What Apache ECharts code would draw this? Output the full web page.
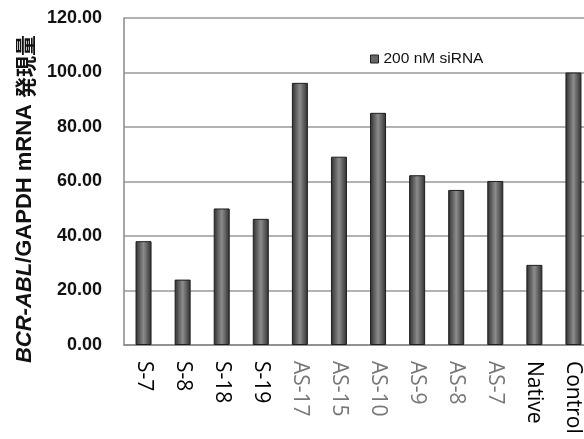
<!DOCTYPE html>
<html>
<head>
<meta charset="utf-8">
<script src="https://cdn.jsdelivr.net/npm/echarts@6/dist/echarts.min.js"></script>
<style>
html,body{margin:0;padding:0;overflow:hidden;background:#fff;}
#c{width:600px;height:439px;}
</style>
</head>
<body>
<div id="c"></div>
<script>
var categories = ['S-7','S-8','S-18','S-19','AS-17','AS-15','AS-10','AS-9','AS-8','AS-7','Native','Control'];
var values = [38.1, 24.0, 50.1, 46.3, 96.2, 69.1, 85.2, 62.3, 56.9, 60.2, 29.4, 100.0];
var labelColors = ['#000','#000','#000','#000','#777','#777','#777','#777','#777','#777','#000','#000'];
var seriesName = '200 nM siRNA';
var yTicks = {min: 0, max: 120, interval: 20};

var chart = echarts.init(document.getElementById('c'));
var barGrad = new echarts.graphic.LinearGradient(0,0,1,0,[
  {offset:0,color:'#2e2e2e'},{offset:0.5,color:'#8c8c8c'},{offset:1,color:'#2e2e2e'}
]);
chart.setOption({
  animation:false,
  grid:{left:124, top:18, bottom:94, right:7, containLabel:false},
  legend:{
    left:365, top:46, itemWidth:8, itemHeight:8, itemGap:5,
    icon:'rect',
    textStyle:{fontFamily:'Liberation Sans', fontSize:15.5, color:'#111'},
    data:[{name:seriesName, itemStyle:{color:'#666', borderColor:'#222', borderWidth:1}}]
  },
  xAxis:{
    type:'category', data:categories,
    axisLine:{lineStyle:{color:'#888', width:1.5}},
    axisTick:{inside:true, length:6, lineStyle:{color:'#888'}},
    axisLabel:{
      rotate:-90, margin:16, interval:0,
      fontFamily:'Open Sans', fontSize:21,
      formatter:function(v){ var i = categories.indexOf(v); return '{c'+i+'|'+v+'}'; },
      rich:(function(){var r={}; for(var i=0;i<categories.length;i++){r['c'+i]={color:labelColors[i], fontFamily:'Open Sans', fontSize:21};} return r;})()
    }
  },
  yAxis:{
    type:'value', min:yTicks.min, max:yTicks.max, interval:yTicks.interval,
    axisLine:{show:true, lineStyle:{color:'#888', width:1.5}},
    axisTick:{show:false},
    splitLine:{lineStyle:{color:'#999', width:1.5}},
    axisLabel:{
      margin:22, color:'#111', fontFamily:'Liberation Sans', fontWeight:'bold', fontSize:18,
      formatter:function(v){return v.toFixed(2);}
    }
  },
  graphic:[{
    type:'text', x:25, y:199, rotation:Math.PI/2,
    style:{
      text:'{i|BCR-ABL}{n|/GAPDH mRNA }{j|発現量}',
      align:'center', verticalAlign:'middle',
      rich:{
        i:{fontFamily:'Liberation Sans', fontStyle:'italic', fontWeight:'bold', fontSize:22, fill:'#111'},
        n:{fontFamily:'Liberation Sans', fontWeight:'bold', fontSize:22, fill:'#111'},
        j:{fontFamily:'Noto Sans CJK JP', fontWeight:'bold', fontSize:21, fill:'#111'}
      }
    }
  }],
  series:[{
    name:seriesName, type:'bar', data:values, barWidth:16,
    itemStyle:{color:barGrad, borderColor:'#1e1e1e', borderWidth:1}
  }]
});
</script>
</body>
</html>
